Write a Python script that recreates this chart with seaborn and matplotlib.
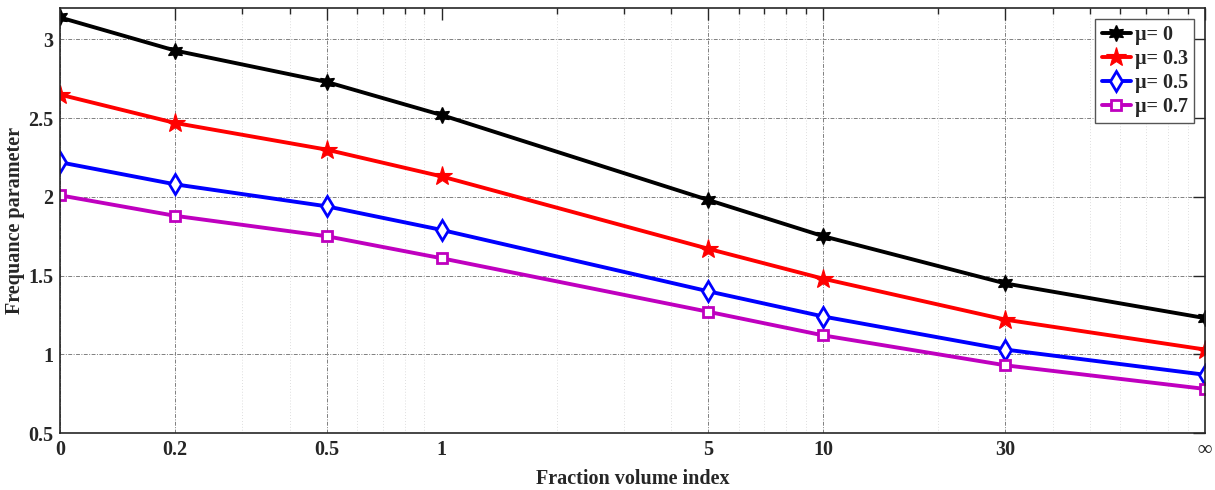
import matplotlib
matplotlib.use("Agg")
import matplotlib.pyplot as plt
import matplotlib.ticker as mticker
import numpy as np
import pandas as pd
import seaborn as sns

# Fraction volume index: positions on the log axis and their printed labels
index_pos = [0.1, 0.2, 0.5, 1, 5, 10, 30, 100]
index_labels = ["0", "0.2", "0.5", "1", "5", "10", "30", "\u221e"]

# Frequency parameter for each damping value mu
freq_mu_0 = [3.14, 2.93, 2.73, 2.52, 1.98, 1.75, 1.45, 1.23]
freq_mu_03 = [2.65, 2.47, 2.30, 2.13, 1.67, 1.48, 1.22, 1.03]
freq_mu_05 = [2.22, 2.08, 1.94, 1.79, 1.40, 1.24, 1.03, 0.87]
freq_mu_07 = [2.01, 1.88, 1.75, 1.61, 1.27, 1.12, 0.93, 0.78]

series_labels = ["\u03bc= 0", "\u03bc= 0.3", "\u03bc= 0.5", "\u03bc= 0.7"]

sns.set_theme(style="white")
plt.rcParams["font.family"] = ["Liberation Serif", "DejaVu Serif"]
plt.rcParams["font.weight"] = "bold"
plt.rcParams["axes.labelweight"] = "bold"

fig = plt.figure(figsize=(12.15, 4.9), dpi=100)
ax = fig.add_axes([60 / 1215, 1 - 433 / 490, 1145 / 1215, 425 / 490])

magenta = "#BF00BF"
styles = [
    dict(color="black", marker=(6, 1, 0), markersize=11.5, markerfacecolor="black",
         markeredgecolor="black", markeredgewidth=1.0),
    dict(color="red", marker="*", markersize=15, markerfacecolor="red",
         markeredgecolor="red", markeredgewidth=0.8),
    dict(color="blue", marker="d", markersize=10.5, markerfacecolor="white",
         markeredgecolor="blue", markeredgewidth=2.0),
    dict(color=magenta, marker="s", markersize=6.5, markerfacecolor="white",
         markeredgecolor=magenta, markeredgewidth=2.0),
]

for values, label, st in zip([freq_mu_0, freq_mu_03, freq_mu_05, freq_mu_07], series_labels, styles):
    df = pd.DataFrame({"index": index_pos, "freq": values})
    sns.lineplot(data=df, x="index", y="freq", ax=ax, label=label,
                 linewidth=2.8, **st)

ax.set_xscale("log")
ax.set_xlim(0.1, 100)
ax.set_ylim(0.5, 3.2)

ax.xaxis.set_major_locator(mticker.FixedLocator(index_pos))
ax.xaxis.set_major_formatter(mticker.FixedFormatter(index_labels))
ax.xaxis.set_minor_locator(mticker.LogLocator(base=10, subs=np.arange(2, 10), numticks=20))
ax.xaxis.set_minor_formatter(mticker.NullFormatter())
ax.yaxis.set_major_locator(mticker.MultipleLocator(0.5))
ax.yaxis.set_major_formatter(mticker.FuncFormatter(lambda v, p: f"{v:g}"))

ax.tick_params(axis="both", which="major", direction="in", length=8.5, width=1.0,
               top=True, right=True, labelsize=14.5, colors="#262626", pad=5)
ax.tick_params(axis="both", which="minor", direction="in", length=4.5, width=1.0,
               top=True, right=True)
for t in ax.get_xticklabels() + ax.get_yticklabels():
    t.set_fontweight("bold")
    t.set_color("#262626")

ax.grid(True, which="major", linestyle=(0, (4, 1.5, 1, 1.5)), linewidth=0.7, color="#808080")
ax.grid(True, which="minor", axis="x", linestyle=(0, (1, 2.5)), linewidth=0.6, color="#d4d4d4")
# no major grid line at index 1
for val, gl in zip(index_pos, ax.xaxis.get_gridlines()):
    if val == 1:
        gl.set_visible(False)

for sp in ax.spines.values():
    sp.set_color("#262626")
    sp.set_linewidth(1.2)
    sp.set_visible(True)

ax.set_xlabel("Fraction volume index", fontsize=14.5, fontweight="bold", color="#262626", labelpad=6.5)
ax.set_ylabel("Frequance parameter", fontsize=14.5, fontweight="bold", color="#262626", labelpad=2)

leg = ax.legend(loc="upper right", frameon=True, fancybox=False,
                edgecolor="#555555", framealpha=1, handlelength=1.45,
                handletextpad=0.2, borderpad=0.3, labelspacing=0.2,
                borderaxespad=0.55, prop={"weight": "bold", "size": 14.5})
leg.get_frame().set_linewidth(1.0)

fig.savefig("out.png", dpi=100)
